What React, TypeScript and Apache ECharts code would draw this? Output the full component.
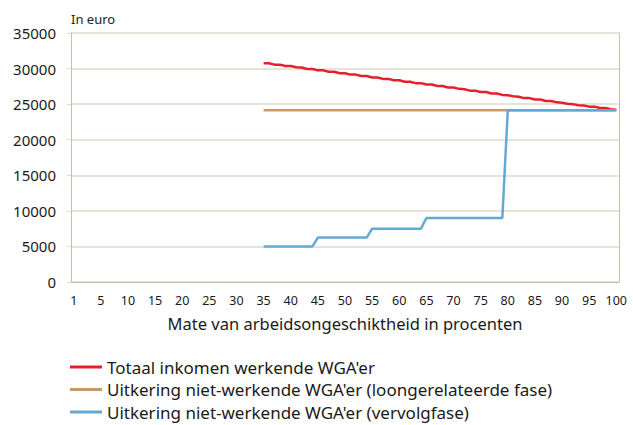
import React, { useEffect, useRef } from "react";
import * as echarts from "echarts";

// Categories 0..100 (percent positions on the axis)
const categories: string[] = Array.from({ length: 101 }, (_, i) => String(i));
// Tick labels shown every 5 categories
const xTickLabels = ["1", "5", "10", "15", "20", "25", "30", "35", "40", "45", "50", "55", "60", "65", "70", "75", "80", "85", "90", "95", "100"];
const yTicks = [0, 5000, 10000, 15000, 20000, 25000, 30000, 35000];

const startIndex = 35;
// Values for 35% .. 100%
const totaalInkomen = [
  30750, 30750, 30550, 30550, 30350, 30350, 30200, 30150, 29950, 29950,
  29750, 29750, 29550, 29550, 29350, 29350, 29150, 29150, 28950, 28950,
  28750, 28750, 28550, 28550, 28350, 28350, 28150, 28150, 27950, 27950,
  27750, 27750, 27550, 27550, 27350, 27350, 27150, 27100, 26900, 26900,
  26700, 26700, 26500, 26500, 26300, 26250, 26100, 26050, 25850, 25850,
  25650, 25650, 25450, 25450, 25250, 25200, 25050, 25000, 24850, 24800,
  24650, 24650, 24450, 24450, 24300, 24200,
];
const loongerelateerd = [
  24150, 24150, 24150, 24150, 24150, 24150, 24150, 24150, 24150, 24150,
  24150, 24150, 24150, 24150, 24150, 24150, 24150, 24150, 24150, 24150,
  24150, 24150, 24150, 24150, 24150, 24150, 24150, 24150, 24150, 24150,
  24150, 24150, 24150, 24150, 24150, 24150, 24150, 24150, 24150, 24150,
  24150, 24150, 24150, 24150, 24150, 24150, 24150, 24150, 24150, 24150,
  24150, 24150, 24150, 24150, 24150, 24150, 24150, 24150, 24150, 24150,
  24150, 24150, 24150, 24150, 24150, 24150,
];
const vervolgfase = [
  5000, 5000, 5000, 5000, 5000, 5000, 5000, 5000, 5000, 5000,
  6250, 6250, 6250, 6250, 6250, 6250, 6250, 6250, 6250, 6250,
  7500, 7500, 7500, 7500, 7500, 7500, 7500, 7500, 7500, 7500,
  9000, 9000, 9000, 9000, 9000, 9000, 9000, 9000, 9000, 9000,
  9000, 9000, 9000, 9000, 9000,
  24150, 24150, 24150, 24150, 24150, 24150, 24150, 24150, 24150, 24150,
  24150, 24150, 24150, 24150, 24150, 24150, 24150, 24150, 24150, 24150,
  24150,
];

const seriesNames = [
  "Totaal inkomen werkende WGA'er",
  "Uitkering niet-werkende WGA'er (loongerelateerde fase)",
  "Uitkering niet-werkende WGA'er (vervolgfase)",
];
const colors = ["#e3202c", "#c49a6c", "#63a9d4"];

const FONT = "'Noto Sans', sans-serif";
const AXIS_COLOR = "#cbbda6";
const GRID_COLOR = "#e0d8cb";

const toPairs = (vals: number[]) => vals.map((v, i) => [startIndex + i, v]);

export default function App() {
  const ref = useRef<HTMLDivElement>(null);
  useEffect(() => {
    document.body.style.margin = "0";
    if (!ref.current) return;
    const chart = echarts.init(ref.current, undefined, { renderer: "svg" });
    chart.setOption({
      animation: false,
      backgroundColor: "#ffffff",
      textStyle: { fontFamily: FONT },
      grid: { left: 71, right: 14, top: 33, bottom: 143 },
      graphic: [
        {
          type: "text",
          left: 71,
          top: 12,
          style: { text: "In euro", font: `13px ${FONT}`, fill: "#222" },
        },
      ],
      legend: {
        orient: "vertical",
        left: 70,
        top: 357,
        height: 100,
        padding: 0,
        icon: "rect",
        itemWidth: 32,
        itemHeight: 3,
        itemGap: 2.5,
        textStyle: { fontSize: 17, lineHeight: 20, color: "#1a1a1a", fontFamily: FONT },
        data: seriesNames,
      },
      xAxis: [
        {
          type: "category",
          data: categories,
          boundaryGap: true,
          name: "Mate van arbeidsongeschiktheid in procenten",
          nameLocation: "middle",
          nameGap: 33,
          nameTextStyle: { fontSize: 16.5, color: "#1a1a1a", fontFamily: FONT },
          axisLine: { lineStyle: { color: AXIS_COLOR, width: 1 } },
          axisTick: { interval: 0, length: 3, lineStyle: { color: AXIS_COLOR } },
          axisLabel: {
            interval: (i: number) => i % 5 === 0,
            formatter: (v: string) => xTickLabels[Number(v) / 5],
            fontSize: 12.5,
            color: "#1a1a1a",
            margin: 12,
            fontFamily: FONT,
          },
          splitLine: { show: false },
        },
        {
          type: "category",
          data: categories,
          boundaryGap: true,
          position: "bottom",
          axisLine: { show: false },
          axisTick: {
            interval: (i: number) => i === 0 || (i > 1 && i % 5 === 1),
            length: 6,
            lineStyle: { color: AXIS_COLOR },
          },
          axisLabel: { show: false },
          splitLine: { show: false },
        },
      ],
      yAxis: [
        {
          type: "value",
          min: yTicks[0],
          max: yTicks[yTicks.length - 1],
          interval: 5000,
          axisLine: { show: true, lineStyle: { color: AXIS_COLOR } },
          axisTick: { show: true, length: 4, lineStyle: { color: GRID_COLOR } },
          axisLabel: {
            formatter: (v: number) => String(v),
            fontSize: 15,
            color: "#1a1a1a",
            margin: 15,
            fontFamily: FONT,
          },
          splitLine: { lineStyle: { color: GRID_COLOR, width: 1.5 } },
        },
        {
          type: "value",
          position: "right",
          min: yTicks[0],
          max: yTicks[yTicks.length - 1],
          interval: 5000,
          axisLine: { show: true, lineStyle: { color: AXIS_COLOR } },
          axisTick: { show: false },
          axisLabel: { show: false },
          splitLine: { show: false },
        },
      ],
      series: [
        {
          name: seriesNames[0],
          type: "line",
          data: toPairs(totaalInkomen),
          showSymbol: false,
          lineStyle: { color: colors[0], width: 2.5 },
          itemStyle: { color: colors[0] },
        },
        {
          name: seriesNames[1],
          type: "line",
          data: toPairs(loongerelateerd),
          showSymbol: false,
          lineStyle: { color: colors[1], width: 2.5 },
          itemStyle: { color: colors[1] },
        },
        {
          name: seriesNames[2],
          type: "line",
          data: toPairs(vervolgfase),
          showSymbol: false,
          lineStyle: { color: colors[2], width: 2.5 },
          itemStyle: { color: colors[2] },
        },
      ],
    });
    return () => chart.dispose();
  }, []);
  return <div ref={ref} style={{ width: 633, height: 425 }} />;
}
